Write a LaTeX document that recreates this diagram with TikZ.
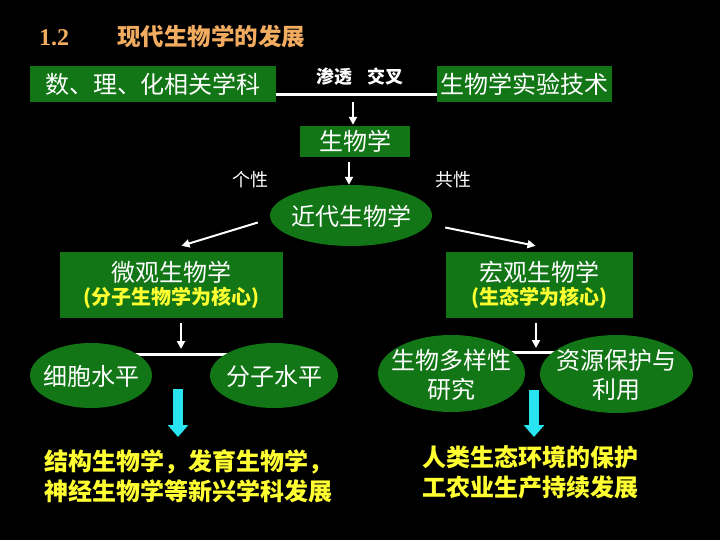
\documentclass[tikz,border=0pt]{standalone}
\usepackage{fontspec}
\setmainfont{Liberation Serif}
\newfontfamily\cjk{Noto Sans CJK SC}
\usetikzlibrary{shapes.geometric,arrows.meta,calc,backgrounds}
\definecolor{boxgreen}{RGB}{18,118,22}
\definecolor{titleorange}{RGB}{242,172,96}
\definecolor{hl}{RGB}{255,255,50}
\definecolor{cyanarrow}{RGB}{40,228,240}
\newcommand{\ectr}[1]{\smash{\raisebox{-0.45em}{\makebox[0pt]{\begin{tabular}{@{}c@{}}#1\end{tabular}}}}}
\tikzset{
  gbox/.style={fill=boxgreen, inner sep=0pt, text=white, align=center},
  gell/.style={ellipse, fill=boxgreen, inner sep=0pt, text=white},
  big/.style={font=\cjk\fontsize{24}{29}\selectfont},
  small/.style={font=\cjk\bfseries\fontsize{18}{22}\selectfont, text=white},
  wline/.style={draw=white, line width=3pt},
  warr/.style={draw=white, line width=2pt, -{Triangle[width=8pt,length=8pt]}},
  carr/.style={draw=cyanarrow, line width=10pt, -{Triangle[width=20pt,length=12pt]}},
  ytext/.style={text=hl, font=\cjk\bfseries\fontsize{24}{30}\selectfont, align=left, inner sep=0pt},
}
\begin{document}
\begin{tikzpicture}[x=1pt,y=-1pt]
\useasboundingbox (0,0) rectangle (720,540);
% title
\node[text=titleorange, font=\bfseries\fontsize{24}{28}\selectfont, inner sep=0pt] (num) at (54,38) {1.2};
\node[text=titleorange, font=\cjk\bfseries\fontsize{23.5}{28}\selectfont, inner sep=0pt] (title) at (211,37) {现代生物学的发展};
% top row
\node[gbox, big, minimum width=246pt, minimum height=36pt] (math) at (153,84) {数、理、化相关学科};
\node[gbox, big, minimum width=175pt, minimum height=36pt] (tech) at (524.5,84) {生物学实验技术};
\node[small, inner sep=0pt] (cross) at (360,77) {渗透\hspace{16pt}交叉};
\node[gbox, big, minimum width=110pt, minimum height=31pt] (bio) at (355,141.5) {生物学};
\node[small, font=\cjk\fontsize{18}{22}\selectfont, inner sep=0pt] (indiv) at (250,180) {个性};
\node[small, font=\cjk\fontsize{18}{22}\selectfont, inner sep=0pt] (common) at (453,180) {共性};
\node[gell, big, minimum width=162pt, minimum height=61pt] (modern) at (351,215.5) {\ectr{近代生物学}};
% second level
\node[gbox, minimum width=223pt, minimum height=66pt] (micro) at (171.5,285)
  {{\cjk\fontsize{24}{26}\selectfont 微观生物学}\\[2pt]{\color{hl}\cjk\bfseries\fontsize{20}{22}\selectfont (分子生物学为核心)}};
\node[gbox, minimum width=187pt, minimum height=66pt] (macro) at (539.5,285)
  {{\cjk\fontsize{24}{26}\selectfont 宏观生物学}\\[2pt]{\color{hl}\cjk\bfseries\fontsize{20}{22}\selectfont (生态学为核心)}};
% third level
\node[gell, big, minimum width=122pt, minimum height=65pt] (cell) at (91,375.5) {\ectr{细胞水平}};
\node[gell, big, minimum width=128pt, minimum height=65pt] (mol) at (274,375.5) {\ectr{分子水平}};
\node[gell, big, minimum width=147pt, minimum height=77pt] (divers) at (451.5,373.5) {\ectr{生物多样性\\研究}};
\node[gell, big, minimum width=153pt, minimum height=78pt] (resource) at (616.5,374) {\ectr{资源保护与\\利用}};
% bottom texts
\node[ytext, anchor=north west] (leftres) at (44,449) {结构生物学，发育生物学，\\神经生物学等新兴学科发展};
\node[ytext, anchor=north] (rightres) at (530,445) {人类生态环境的保护\\工农业生产持续发展};
% junction coordinates
\coordinate (j1) at (353,95);
\coordinate (j2) at (181,354);
\coordinate (j3) at (536,352);
% connectors
\draw[warr] ($(j1)+(0,7)$) -- ($(bio.north -| j1)+(0,-1)$);
\draw[warr] ($(bio.south)+(-6,5)$) -- ($(modern.north)+(-2,0)$);
\draw[warr] ($(modern.west)+(-12,7)$) -- ($(micro.north)+(10,-6)$);
\draw[warr] ($(modern.east)+(13,12)$) -- ($(macro.north)+(-4,-6)$);
\draw[warr] ($(micro.south -| j2)+(0,5)$) -- ($(j2)+(0,-5)$);
\draw[warr] ($(macro.south -| j3)+(0,5)$) -- ($(j3)+(0,-4)$);
\draw[carr] ($(j2)+(-3,35)$) -- ($(j2)+(-3,83)$);
\draw[carr] ($(j3)+(-2,38)$) -- ($(j3)+(-2,85)$);
\begin{scope}[on background layer]
\fill[black] (0,0) rectangle (720,540);
\draw[wline] (math.east |- j1) -- (tech.west |- j1);
\draw[wline] (cell.north |- j2) -- (mol.north |- j2);
\draw[wline] (divers.north |- j3) -- (resource.north |- j3);
\end{scope}
\end{tikzpicture}
\end{document}
